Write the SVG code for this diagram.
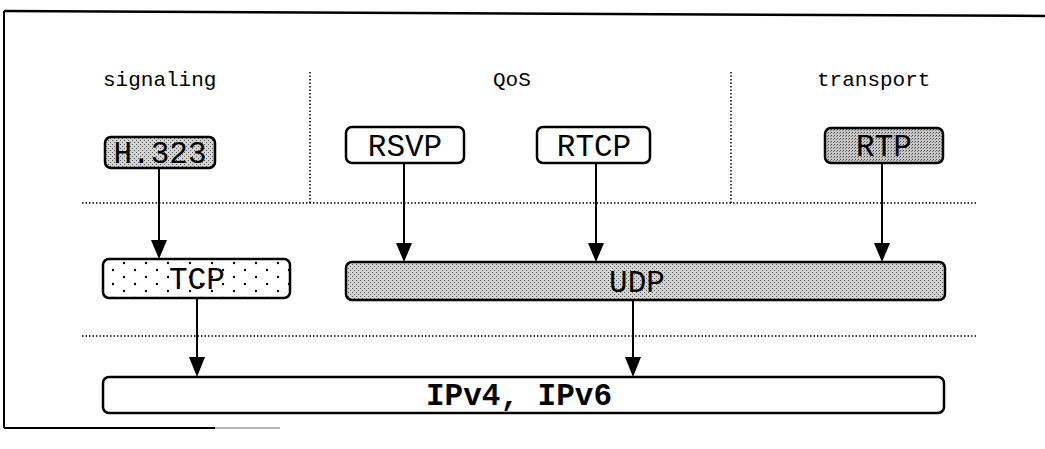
<svg xmlns="http://www.w3.org/2000/svg" width="1045" height="449" viewBox="0 0 1045 449">
<defs>
<style>
.box{stroke:#000;stroke-width:2.5}
.lbl{font-family:"Liberation Mono","DejaVu Sans Mono",monospace;font-size:21px;fill:#000}
.t{font-family:"Liberation Mono","DejaVu Sans Mono",monospace;font-size:31px;fill:#000;text-anchor:middle}
.tb{font-family:"Liberation Mono","DejaVu Sans Mono",monospace;font-size:31px;font-weight:bold;fill:#000;text-anchor:middle}
.sep{stroke:#000;stroke-width:1.5;stroke-dasharray:1.5 2;fill:none}
.ln{stroke:#000;stroke-width:2}
</style>
<pattern id="dots" width="22" height="14" patternUnits="userSpaceOnUse">
<rect width="22" height="14" fill="#fff"/>
<circle cx="3" cy="4" r="1.2" fill="#000"/>
<circle cx="14" cy="11" r="1.2" fill="#000"/>
</pattern>
<pattern id="g1" width="4" height="4" patternUnits="userSpaceOnUse">
<rect width="4" height="4" fill="#d4d4d4"/>
<rect x="0" y="0" width="1" height="1" fill="#555"/>
<rect x="2" y="2" width="1" height="1" fill="#555"/>
</pattern>
<pattern id="g2" width="3" height="3" patternUnits="userSpaceOnUse">
<rect width="3" height="3" fill="#c8c8c8"/>
<rect x="0" y="0" width="1" height="1" fill="#444"/>
<rect x="2" y="1" width="1" height="1" fill="#777"/>
</pattern>
</defs>
<rect width="1045" height="449" fill="#fff"/>
<g id="frame">
<line x1="4" y1="11" x2="1045" y2="16" stroke="#000" stroke-width="2.5"/>
<line x1="4" y1="11" x2="4" y2="428" stroke="#000" stroke-width="2"/>
<line x1="4" y1="428" x2="215" y2="428" stroke="#000" stroke-width="2"/>
<line x1="215" y1="428" x2="280" y2="428" stroke="#999" stroke-width="1.5"/>
</g>
<g id="separators">
<line class="sep" x1="310" y1="72" x2="310" y2="203"/>
<line class="sep" x1="731" y1="72" x2="731" y2="203"/>
<line class="sep" x1="82" y1="203" x2="976" y2="203"/>
<line class="sep" x1="82" y1="336" x2="976" y2="336"/>
</g>
<g id="headers">
<text class="lbl" x="103" y="86">signaling</text>
<text class="lbl" x="493" y="86">QoS</text>
<text class="lbl" x="817" y="86">transport</text>
</g>
<g id="connectors">
<line class="ln" x1="159" y1="167" x2="159" y2="242"/>
<path d="M151,240 L167,240 L159,259 Z"/>
<line class="ln" x1="404" y1="163" x2="404" y2="245"/>
<path d="M396,243 L412,243 L404,262 Z"/>
<line class="ln" x1="596" y1="163" x2="596" y2="245"/>
<path d="M588,243 L604,243 L596,262 Z"/>
<line class="ln" x1="882" y1="163" x2="882" y2="245"/>
<path d="M874,243 L890,243 L882,262 Z"/>
<line class="ln" x1="197" y1="298" x2="197" y2="359"/>
<path d="M189,357 L205,357 L197,377 Z"/>
<line class="ln" x1="633" y1="300" x2="633" y2="359"/>
<path d="M625,357 L641,357 L633,377 Z"/>
</g>
<g id="h323">
<rect class="box" x="105" y="137" width="110" height="31" rx="6" fill="url(#g1)"/>
<text class="t" x="160" y="163">H.323</text>
</g>
<g id="rsvp">
<rect class="box" x="346" y="127" width="118" height="36" rx="6" fill="#fff"/>
<text class="t" x="405" y="156">RSVP</text>
</g>
<g id="rtcp">
<rect class="box" x="537" y="127" width="113" height="36" rx="6" fill="#fff"/>
<text class="t" x="594" y="156">RTCP</text>
</g>
<g id="rtp">
<rect class="box" x="825" y="128" width="118" height="35" rx="6" fill="url(#g2)"/>
<text class="t" x="884" y="156">RTP</text>
</g>
<g id="tcp">
<rect class="box" x="103" y="259" width="187" height="39" rx="6" fill="url(#dots)"/>
<text class="t" x="197" y="289">TCP</text>
</g>
<g id="udp">
<rect class="box" x="346" y="262" width="599" height="38" rx="6" fill="url(#g1)"/>
<text class="t" x="637" y="292">UDP</text>
</g>
<g id="ip">
<rect class="box" x="103" y="377" width="841" height="36" rx="6" fill="#fff"/>
<text class="tb" x="519" y="405">IPv4, IPv6</text>
</g>
</svg>
